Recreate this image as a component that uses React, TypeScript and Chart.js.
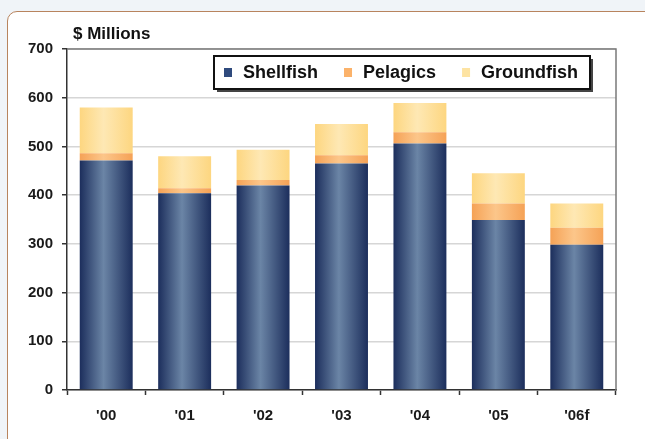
import { useEffect, useRef } from "react";
import { Chart, registerables } from "chart.js";

Chart.register(...registerables);

const categories = ["'00", "'01", "'02", "'03", "'04", "'05", "'06f"];
const shellfish = [471, 404, 420, 465, 506, 349, 298];
const pelagics = [15, 10, 11, 17, 23, 34, 35];
const groundfish = [94, 66, 62, 64, 60, 62, 50];
const seriesNames = ["Shellfish", "Pelagics", "Groundfish"];
const yAxisTitle = "$ Millions";
const yMin = 0;
const yMax = 700;
const yStep = 100;

const BAR_PCT = 0.675;
const FONT = "'Liberation Sans', Arial, sans-serif";

const palettes = [
  { edge: "#1c2e5c", mid: "#6b85a6", key: "#2f4a7d" },
  { edge: "#f5a256", mid: "#fcc68a", key: "#fbb26a" },
  { edge: "#fdd680", mid: "#fee8b4", key: "#fde3a2" },
];

function gradientFor(idx: number) {
  return (ctx: any) => {
    const chart = ctx.chart;
    const area = chart.chartArea;
    const p = palettes[idx];
    if (!area) return p.mid;
    const c = chart.ctx as CanvasRenderingContext2D;
    const n = chart.data.labels.length;
    const w = area.right - area.left;
    const catW = w / n;
    const bw = catW * BAR_PCT;
    const g = c.createLinearGradient(area.left, 0, area.right, 0);
    for (let i = 0; i < n; i++) {
      const center = area.left + (i + 0.5) * catW;
      const l = center - bw / 2;
      const r = center + bw / 2;
      g.addColorStop(Math.max(0, (l - area.left) / w), p.edge);
      g.addColorStop((l + bw * 0.45 - area.left) / w, p.mid);
      g.addColorStop(Math.min(1, (r - area.left) / w), p.edge);
    }
    return g;
  };
}

const framePlugin = {
  id: "frame",
  beforeDatasetsDraw(chart: any) {
    const { ctx, chartArea: a } = chart;
    ctx.save();
    ctx.strokeStyle = "#7a7a7a";
    ctx.lineWidth = 1.5;
    ctx.beginPath();
    ctx.moveTo(a.left, a.top);
    ctx.lineTo(a.right, a.top);
    ctx.lineTo(a.right, a.bottom);
    ctx.stroke();
    ctx.restore();
  },
};

const titlePlugin = {
  id: "ytitle",
  afterDraw(chart: any) {
    const { ctx } = chart;
    ctx.save();
    ctx.font = `bold 17px ${FONT}`;
    ctx.fillStyle = "#111";
    ctx.textAlign = "left";
    ctx.textBaseline = "middle";
    ctx.fillText(yAxisTitle, 73, 34);
    ctx.restore();
  },
};

const legendPlugin = {
  id: "boxLegend",
  afterDraw(chart: any) {
    const { ctx } = chart;
    const x0 = 214, y0 = 56, x1 = 590, y1 = 89;
    ctx.save();
    // shadow
    ctx.fillStyle = "#444";
    ctx.fillRect(x0 + 3, y0 + 3, x1 - x0, y1 - y0);
    ctx.fillStyle = "#fff";
    ctx.fillRect(x0, y0, x1 - x0, y1 - y0);
    ctx.strokeStyle = "#111";
    ctx.lineWidth = 2;
    ctx.strokeRect(x0, y0, x1 - x0, y1 - y0);
    ctx.font = `bold 18px ${FONT}`;
    ctx.textBaseline = "middle";
    ctx.textAlign = "left";
    const cy = (y0 + y1) / 2;
    let x = 224;
    chart.data.datasets.forEach((ds: any, i: number) => {
      ctx.fillStyle = palettes[i].key;
      ctx.fillRect(x, cy - 4.5, 8, 9);
      ctx.fillStyle = "#111";
      const tx = x + 19;
      ctx.fillText(ds.label, tx, cy + 1);
      x = tx + ctx.measureText(ds.label).width + 26;
    });
    ctx.restore();
  },
};

export default function App() {
  const ref = useRef<HTMLCanvasElement>(null);

  useEffect(() => {
    if (!ref.current) return;
    const chart = new Chart(ref.current, {
      type: "bar",
      data: {
        labels: categories,
        datasets: [shellfish, pelagics, groundfish].map((d, i) => ({
          label: seriesNames[i],
          data: d,
          backgroundColor: gradientFor(i),
          borderWidth: 0,
          barPercentage: BAR_PCT,
          categoryPercentage: 1,
        })),
      },
      options: {
        animation: false,
        responsive: false,
        devicePixelRatio: 1,
        layout: { padding: { left: 0, top: 49, right: 29, bottom: 0 } },
        plugins: {
          legend: { display: false },
          tooltip: { enabled: false },
          title: { display: false },
        },
        scales: {
          x: {
            stacked: true,
            afterFit: (s: any) => {
              s.height = 49;
            },
            grid: {
              drawOnChartArea: false,
              drawTicks: true,
              tickLength: 5,
              tickColor: "#333",
              tickWidth: 1.5,
              offset: true,
            },
            border: { display: true, color: "#333", width: 1.5 },
            ticks: {
              color: "#1a1a1a",
              font: { family: FONT, size: 15, weight: "bold" },
              padding: 12,
            },
          },
          y: {
            stacked: true,
            min: yMin,
            max: yMax,
            afterFit: (s: any) => {
              s.width = 67;
            },
            grid: {
              color: "#d6d6d6",
              lineWidth: 1.5,
              drawTicks: true,
              tickLength: 5,
              tickColor: "#333",
              tickWidth: 1.5,
            },
            border: { display: true, color: "#333", width: 1.5 },
            ticks: {
              stepSize: yStep,
              color: "#1a1a1a",
              font: { family: FONT, size: 15, weight: "bold" },
              padding: 9,
            },
          },
        },
      },
      plugins: [framePlugin, titlePlugin, legendPlugin],
    });
    return () => chart.destroy();
  }, []);

  return (
    <div
      style={{
        position: "fixed",
        inset: 0,
        background: "#f0f4f8",
        overflow: "hidden",
      }}
    >
      <div
        style={{
          position: "absolute",
          left: 7,
          top: 11,
          width: 700,
          height: 500,
          border: "1.5px solid #b8845e",
          borderRadius: 10,
          background: "#fff",
        }}
      />
      <canvas
        ref={ref}
        width={645}
        height={439}
        style={{ position: "absolute", left: 0, top: 0, width: 645, height: 439 }}
      />
    </div>
  );
}
